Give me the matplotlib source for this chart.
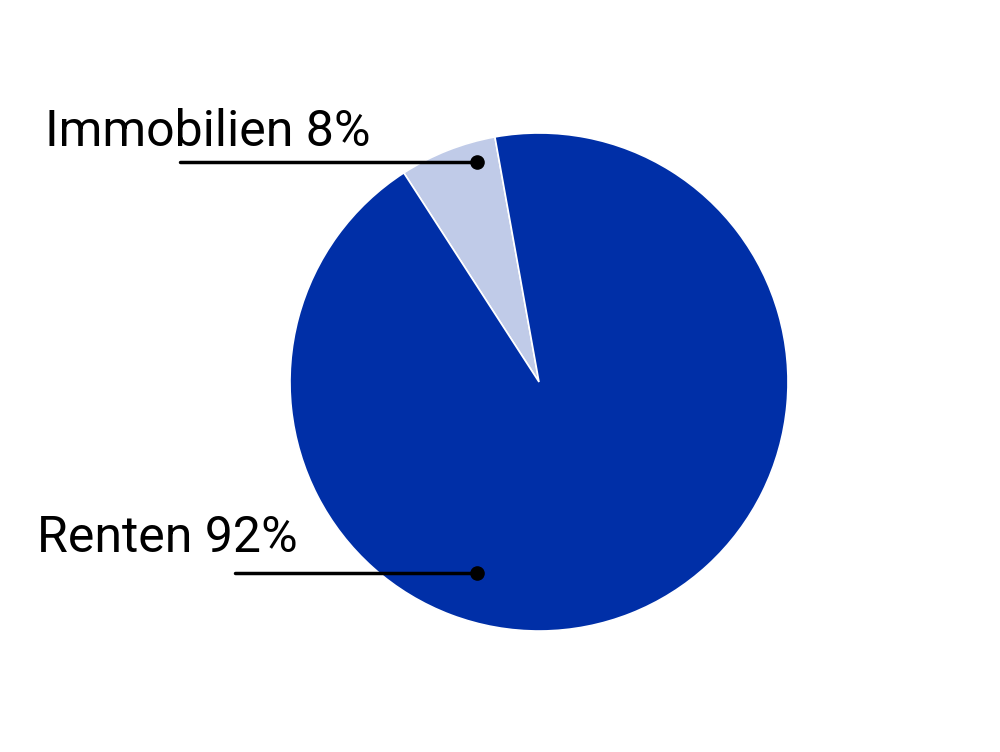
import matplotlib
matplotlib.use('Agg')
import matplotlib.pyplot as plt

# Anteile wie im Bild gezeichnet (Beschriftung nennt 8 % / 92 %)
kategorien = ['Immobilien', 'Renten']
anteile = [6.3, 93.7]
beschriftungen = ['Immobilien 8%', 'Renten 92%']
farben = ['#c0cbe8', '#002fa7']

plt.rcParams['font.family'] = ['Roboto', 'DejaVu Sans']

fig = plt.figure(figsize=(10, 7.52), dpi=100)
ax = fig.add_axes([0, 0, 1, 1])

ax.pie(anteile, colors=farben, startangle=100.2, counterclock=True,
       center=(539, 370), radius=249, frame=True,
       wedgeprops=dict(edgecolor='white', linewidth=1.2))

# Beschriftungen mit Führungslinien
punkte = [(477, 590), (477, 179)]
linien_start = [180, 235]
text_pos = [(45, 606), (37, 200)]
for txt, (px, py), lx, (tx, ty) in zip(beschriftungen, punkte, linien_start, text_pos):
    ax.plot([lx, px], [py, py], color='black', linewidth=2.5, solid_capstyle='round')
    ax.scatter([px], [py], color='black', s=90, zorder=5)
    ax.text(tx, ty, txt, fontsize=36, color='black', ha='left', va='baseline')

ax.set_xlim(0, 1000)
ax.set_ylim(0, 752)
ax.set_aspect('equal')
ax.axis('off')

fig.savefig('out.png', dpi=100)
